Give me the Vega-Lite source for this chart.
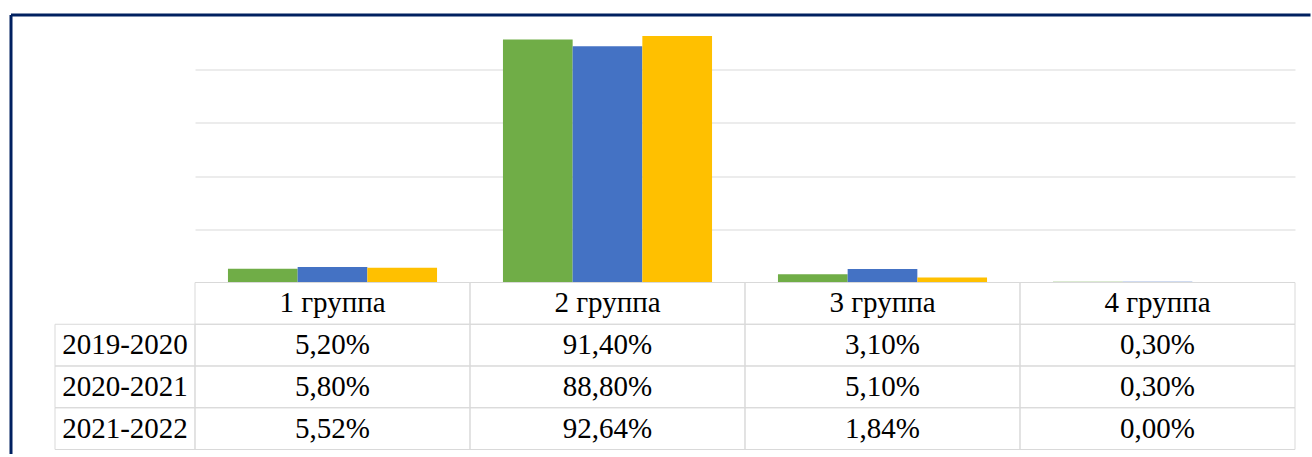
{
  "$schema": "https://vega.github.io/schema/vega-lite/v6.json",
  "background": "white",
  "padding": {"left": 10, "top": 14.5, "right": 0, "bottom": 0},
  "autosize": {"type": "pad"},
  "config": {
    "view": {"stroke": null},
    "locale": {"number": {"decimal": ",", "thousands": " ", "grouping": [3], "currency": ["", " ₽"]}},
    "text": {"font": "Liberation Serif", "fontSize": 29, "color": "#000000"}
  },
  "datasets": {
    "vals": [
      {"group": "1 группа", "year": "2019-2020", "value": 0.052},
      {"group": "1 группа", "year": "2020-2021", "value": 0.058},
      {"group": "1 группа", "year": "2021-2022", "value": 0.0552},
      {"group": "2 группа", "year": "2019-2020", "value": 0.914},
      {"group": "2 группа", "year": "2020-2021", "value": 0.888},
      {"group": "2 группа", "year": "2021-2022", "value": 0.9264},
      {"group": "3 группа", "year": "2019-2020", "value": 0.031},
      {"group": "3 группа", "year": "2020-2021", "value": 0.051},
      {"group": "3 группа", "year": "2021-2022", "value": 0.0184},
      {"group": "4 группа", "year": "2019-2020", "value": 0.003},
      {"group": "4 группа", "year": "2020-2021", "value": 0.003},
      {"group": "4 группа", "year": "2021-2022", "value": 0.0}
    ],
    "years": [{"year": "2019-2020"}, {"year": "2020-2021"}, {"year": "2021-2022"}],
    "groups": [{"group": "1 группа"}, {"group": "2 группа"}, {"group": "3 группа"}, {"group": "4 группа"}]
  },
  "columns": 2,
  "spacing": 0,
  "bounds": "flush",
  "concat": [
    {
      "width": 140,
      "height": 266,
      "data": {"values": []},
      "mark": {"type": "point", "opacity": 0},
      "encoding": {
        "x": {"field": "a", "type": "quantitative", "scale": {"domain": [0, 1], "range": [-44.5, 1255]},
              "axis": {"orient": "top", "offset": 2, "domainColor": "#002060", "domainWidth": 3, "ticks": false, "labels": false, "grid": false, "title": null}},
        "y": {"field": "b", "type": "quantitative", "scale": {"domain": [0, 1], "range": [437, -2]},
              "axis": {"orient": "left", "offset": 44.5, "domainColor": "#002060", "domainWidth": 3, "ticks": false, "labels": false, "grid": false, "title": null}}
      }
    },
    {
      "width": 1100,
      "height": 266,
      "data": {"name": "vals"},
      "mark": {"type": "bar"},
      "encoding": {
        "x": {"field": "group", "type": "nominal", "sort": null, "scale": {"paddingInner": 0, "paddingOuter": 0}, "axis": null},
        "xOffset": {"field": "year", "type": "nominal", "sort": null, "scale": {"paddingInner": 0, "paddingOuter": 0.473}},
        "y": {"field": "value", "type": "quantitative", "scale": {"domain": [0, 1]},
              "axis": {"values": [0.2, 0.4, 0.6, 0.8], "labels": false, "ticks": false, "domain": false, "title": null, "grid": true, "gridColor": "#d9d9d9", "gridWidth": 1}},
        "color": {"field": "year", "type": "nominal", "sort": null,
                  "scale": {"domain": ["2019-2020", "2020-2021", "2021-2022"], "range": ["#70ad47", "#4472c4", "#ffc000"]}, "legend": null}
      }
    },
    {
      "width": 140,
      "height": 167,
      "data": {"name": "years"},
      "encoding": {
        "y": {"field": "year", "type": "nominal", "scale": {"domain": ["header", "2019-2020", "2020-2021", "2021-2022"], "paddingInner": 0, "paddingOuter": 0}, "axis": null}
      },
      "layer": [
        {"mark": {"type": "rect", "fillOpacity": 0, "stroke": "#d9d9d9", "strokeWidth": 1}},
        {"mark": {"type": "text", "font": "Liberation Serif"}, "encoding": {"text": {"field": "year"}}}
      ]
    },
    {
      "width": 1100,
      "height": 167,
      "encoding": {
        "x": {"field": "group", "type": "nominal", "sort": null, "scale": {"domain": ["1 группа", "2 группа", "3 группа", "4 группа"], "paddingInner": 0, "paddingOuter": 0}, "axis": null}
      },
      "layer": [
        {
          "data": {"name": "vals"},
          "mark": {"type": "rect", "fillOpacity": 0, "stroke": "#d9d9d9", "strokeWidth": 1},
          "encoding": {"y": {"field": "year", "type": "nominal", "scale": {"domain": ["header", "2019-2020", "2020-2021", "2021-2022"], "paddingInner": 0, "paddingOuter": 0}, "axis": null}}
        },
        {
          "data": {"name": "groups"},
          "mark": {"type": "rect", "fillOpacity": 0, "stroke": "#d9d9d9", "strokeWidth": 1},
          "encoding": {"y": {"datum": "header", "type": "nominal"}}
        },
        {
          "data": {"name": "vals"},
          "mark": {"type": "text", "font": "Liberation Serif"},
          "encoding": {
            "y": {"field": "year", "type": "nominal"},
            "text": {"field": "value", "type": "quantitative", "format": ".2%"}
          }
        },
        {
          "data": {"name": "groups"},
          "mark": {"type": "text", "font": "Liberation Serif"},
          "encoding": {
            "y": {"datum": "header", "type": "nominal"},
            "text": {"field": "group"}
          }
        }
      ]
    }
  ]
}
